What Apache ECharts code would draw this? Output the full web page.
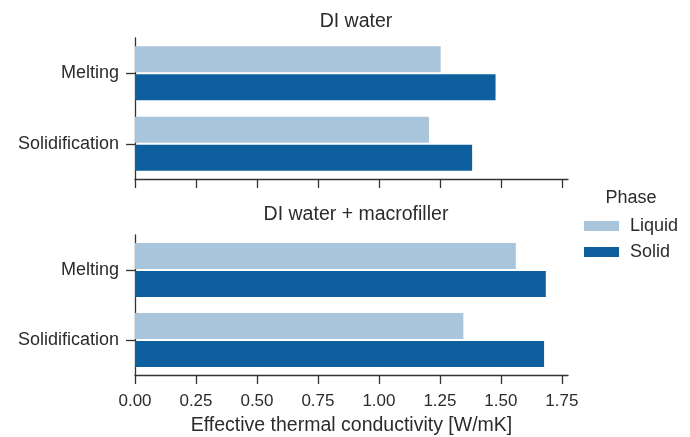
<!DOCTYPE html>
<html>
<head>
<meta charset="utf-8">
<script src="https://cdn.jsdelivr.net/npm/echarts@6/dist/echarts.min.js"></script>
<style>
  html, body { margin: 0; padding: 0; background: #fff; }
  #chart { width: 690px; height: 437px; }
</style>
</head>
<body>
<div id="chart"></div>
<script>
// values
var categories = ['Melting', 'Solidification'];
var panelTitles = ['DI water', 'DI water + macrofiller'];
var waterLiquid = [1.253, 1.205];
var waterSolid = [1.478, 1.382];
var fillerLiquid = [1.561, 1.346];
var fillerSolid = [1.684, 1.677];
var xTicks = [0, 0.25, 0.5, 0.75, 1, 1.25, 1.5, 1.75];
var xTickLabels = ['0.00', '0.25', '0.50', '0.75', '1.00', '1.25', '1.50', '1.75'];

var lightBlue = '#a9c5dc';
var darkBlue = '#0d5f9d';
var ink = '#2b2b2b';
var font = 'Liberation Sans, Arial, sans-serif';

var chart = echarts.init(document.getElementById('chart'), null, { renderer: 'canvas' });

function xAxisFor(gridIndex, showLabels) {
    return {
        type: 'value',
        gridIndex: gridIndex,
        min: 0,
        max: 1.775,
        interval: 0.25,
        splitLine: { show: false },
        axisLine: { show: true, lineStyle: { color: '#333', width: 1.3 } },
        axisTick: { show: true, length: 9, lineStyle: { color: '#333', width: 1.3 },
            customValues: xTicks },
        axisLabel: {
            show: showLabels,
            margin: 18,
            color: ink,
            fontFamily: font,
            fontSize: 17,
            customValues: xTicks,
            formatter: function (v) {
                return xTickLabels[Math.round(v / 0.25)];
            }
        },
        name: showLabels ? 'Effective thermal conductivity [W/mK]' : '',
        nameLocation: 'middle',
        nameGap: 41,
        nameTextStyle: { color: ink, fontFamily: font, fontSize: 19.5 }
    };
}

function yAxisFor(gridIndex) {
    return {
        type: 'category',
        gridIndex: gridIndex,
        data: categories,
        inverse: true,
        axisLine: { show: true, lineStyle: { color: '#333', width: 1.3 } },
        axisTick: { show: true, alignWithLabel: true, length: 9, lineStyle: { color: '#333', width: 1.3 } },
        axisLabel: { margin: 16, color: ink, fontFamily: font, fontSize: 18 }
    };
}

function barSeries(name, idx, data, color) {
    return {
        name: name,
        type: 'bar',
        xAxisIndex: idx,
        yAxisIndex: idx,
        data: data,
        barWidth: 26,
        barGap: '8%',
        itemStyle: { color: color },
        emphasis: { disabled: true }
    };
}

var option = {
    animation: false,
    backgroundColor: '#fff',
    title: [
        { text: panelTitles[0], left: 351, top: 7, textAlign: 'center',
          textStyle: { color: ink, fontFamily: font, fontSize: 19.5, fontWeight: 'normal' } },
        { text: panelTitles[1], left: 351, top: 200, textAlign: 'center',
          textStyle: { color: ink, fontFamily: font, fontSize: 19.5, fontWeight: 'normal' } },
        { text: 'Phase', left: 626, top: 184, textAlign: 'center',
          textStyle: { color: ink, fontFamily: font, fontSize: 18, fontWeight: 'normal' } }
    ],
    legend: {
        data: ['Liquid', 'Solid'],
        orient: 'vertical',
        left: 579,
        top: 211,
        icon: 'rect',
        itemWidth: 35,
        itemHeight: 10,
        itemGap: 6,
        selectedMode: false,
        textStyle: { color: ink, fontFamily: font, fontSize: 18, lineHeight: 20, padding: [0, 0, 0, 6] }
    },
    grid: [
        { left: 135, top: 38, width: 433, height: 141 },
        { left: 135, top: 235, width: 433, height: 140 }
    ],
    xAxis: [xAxisFor(0, false), xAxisFor(1, true)],
    yAxis: [yAxisFor(0), yAxisFor(1)],
    series: [
        barSeries('Liquid', 0, waterLiquid, lightBlue),
        barSeries('Solid', 0, waterSolid, darkBlue),
        barSeries('Liquid', 1, fillerLiquid, lightBlue),
        barSeries('Solid', 1, fillerSolid, darkBlue)
    ]
};

chart.setOption(option);
</script>
</body>
</html>
